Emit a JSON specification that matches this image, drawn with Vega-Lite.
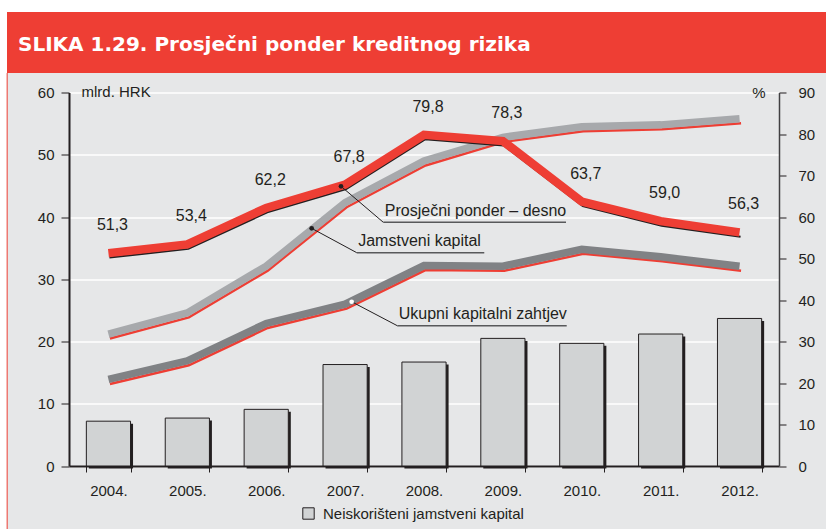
{
  "$schema": "https://vega.github.io/schema/vega-lite/v6.json",
  "width": 710,
  "height": 373.5,
  "autosize": {"type": "none"},
  "padding": {"left": 69, "top": 92.5, "right": 47, "bottom": 63},
  "background": "#e6e7e8",
  "datasets": {
    "main": [
      {"year": "2004.", "J": 21.2, "U": 13.9, "N": 7.2, "P": 51.3},
      {"year": "2005.", "J": 24.6, "U": 16.9, "N": 7.7, "P": 53.4},
      {"year": "2006.", "J": 32.1, "U": 22.9, "N": 9.1, "P": 62.2},
      {"year": "2007.", "J": 42.3, "U": 26.0, "N": 16.3, "P": 67.8},
      {"year": "2008.", "J": 49.0, "U": 32.2, "N": 16.7, "P": 79.8},
      {"year": "2009.", "J": 52.8, "U": 32.1, "N": 20.5, "P": 78.3},
      {"year": "2010.", "J": 54.5, "U": 34.8, "N": 19.7, "P": 63.7},
      {"year": "2011.", "J": 54.8, "U": 33.6, "N": 21.2, "P": 59.0},
      {"year": "2012.", "J": 55.8, "U": 32.1, "N": 23.7, "P": 56.3}
    ],
    "notes": [
      {"series": "Prosječni ponder – desno", "ax": 3.448, "ay": 44.93, "kx": 3.984, "ky": 39.15, "ex": 6.30},
      {"series": "Jamstveni kapital", "ax": 3.076, "ay": 38.18, "kx": 3.647, "ky": 34.27, "ex": 5.264},
      {"series": "Ukupni kapitalni zahtjev", "ax": 3.583, "ay": 26.39, "kx": 4.161, "ky": 22.54, "ex": 6.309}
    ]
  },
  "resolve": {"scale": {"x": "independent", "y": "independent"}, "axis": {"x": "independent", "y": "independent"}},
  "layer": [
    {
      "data": {"name": "main"},
      "layer": [
        {
          "mark": {"type": "bar", "color": "#231f20", "xOffset": 2.5, "yOffset": 2.5, "y2Offset": 2.5},
          "encoding": {
            "x": {"field": "year", "type": "nominal", "scale": {"paddingInner": 0.44, "paddingOuter": 0.22},
              "axis": {"orient": "bottom", "title": null, "labelAngle": 0, "tickBand": "extent", "tickSize": 6, "labelPadding": 11, "domainWidth": 2, "tickWidth": 1, "grid": false}},
            "y": {"field": "N", "type": "quantitative", "scale": {"domain": [0, 60], "nice": false},
              "axis": {"orient": "left", "values": [0, 10, 20, 30, 40, 50, 60], "tickSize": 8, "labelPadding": 7, "domainWidth": 2, "tickWidth": 1, "grid": true, "gridColor": "white", "gridWidth": 1.5,
                "title": "mlrd. HRK", "titleAngle": 0, "titleAlign": "left", "titleBaseline": "alphabetic", "titleX": 12, "titleY": 4}}
          }
        },
        {
          "mark": {"type": "bar", "stroke": "#231f20", "strokeWidth": 1},
          "encoding": {
            "x": {"field": "year", "type": "nominal"},
            "y": {"field": "N", "type": "quantitative"},
            "color": {"datum": "Neiskorišteni jamstveni kapital", "type": "nominal", "scale": {"range": ["#d1d3d4"]},
              "legend": {"orient": "none", "legendX": 232, "legendY": 413.5, "title": null, "symbolType": "square", "symbolSize": 130, "symbolStrokeColor": "#231f20", "symbolStrokeWidth": 1, "labelFontSize": 15, "labelColor": "#231f20", "labelOffset": 7, "labelLimit": 400, "padding": 0}}
          }
        },
        {
          "mark": {"type": "line", "color": "#ee3e34", "strokeWidth": 2.5, "yOffset": 4.5, "xOffset": 1.5},
          "encoding": {"x": {"field": "year", "type": "nominal"}, "y": {"field": "J", "type": "quantitative"}}
        },
        {
          "mark": {"type": "line", "color": "#a7a9ac", "strokeWidth": 7.5, "strokeCap": "butt"},
          "encoding": {"x": {"field": "year", "type": "nominal"}, "y": {"field": "J", "type": "quantitative"}}
        },
        {
          "mark": {"type": "line", "color": "#ee3e34", "strokeWidth": 2.5, "yOffset": 4.5, "xOffset": 1.5},
          "encoding": {"x": {"field": "year", "type": "nominal"}, "y": {"field": "U", "type": "quantitative"}}
        },
        {
          "mark": {"type": "line", "color": "#808285", "strokeWidth": 7.5, "strokeCap": "butt"},
          "encoding": {"x": {"field": "year", "type": "nominal"}, "y": {"field": "U", "type": "quantitative"}}
        }
      ]
    },
    {
      "data": {"name": "main"},
      "layer": [
        {
          "mark": {"type": "line", "color": "#231f20", "strokeWidth": 2, "yOffset": 4.5, "xOffset": 1},
          "encoding": {
            "x": {"field": "year", "type": "nominal", "scale": {"paddingInner": 0.44, "paddingOuter": 0.22}, "axis": null},
            "y": {"field": "P", "type": "quantitative", "scale": {"domain": [0, 90], "nice": false},
              "axis": {"orient": "right", "values": [0, 10, 20, 30, 40, 50, 60, 70, 80, 90], "tickSize": 7, "labelPadding": 12, "domainWidth": 1.5, "domainColor": "#414042", "tickWidth": 1, "grid": false,
                "title": "%", "titleAngle": 0, "titleAlign": "right", "titleBaseline": "alphabetic", "titleX": -14, "titleY": 5}}
          }
        },
        {
          "mark": {"type": "line", "color": "#ee3e34", "strokeWidth": 8.5, "strokeCap": "butt"},
          "encoding": {"x": {"field": "year", "type": "nominal"}, "y": {"field": "P", "type": "quantitative"}}
        },
        {
          "mark": {"type": "text", "fontSize": 16, "color": "#231f20", "dx": 4, "dy": -28, "align": "center", "baseline": "middle"},
          "encoding": {"x": {"field": "year", "type": "nominal"}, "y": {"field": "P", "type": "quantitative"}, "text": {"field": "P", "type": "quantitative", "format": ".1f"}}
        }
      ]
    },
    {
      "layer": [
        {
          "data": {"values": [{}]},
          "mark": {"type": "rect", "color": "#ee3e34"},
          "encoding": {
            "x": {"datum": -0.786, "type": "quantitative", "scale": {"domain": [0, 9], "nice": false, "zero": false}, "axis": null},
            "x2": {"datum": 10.5},
            "y": {"datum": 72.93, "type": "quantitative", "scale": {"domain": [0, 60], "nice": false, "zero": false}, "axis": null},
            "y2": {"datum": 63.13}
          }
        },
        {
          "data": {"values": [{}]},
          "mark": {"type": "rect", "color": "white"},
          "encoding": {"x": {"datum": -1.5, "type": "quantitative"}, "x2": {"datum": 10.5}, "y": {"datum": 72.93, "type": "quantitative"}, "y2": {"datum": 85}}
        },
        {
          "data": {"values": [{}]},
          "mark": {"type": "rect", "color": "white"},
          "encoding": {"x": {"datum": -1.5, "type": "quantitative"}, "x2": {"datum": -0.786}, "y": {"datum": -15, "type": "quantitative"}, "y2": {"datum": 85}}
        },
        {
          "data": {"values": [{}]},
          "mark": {"type": "rule", "color": "#ee3e34", "strokeWidth": 1},
          "encoding": {"x": {"datum": -0.784, "type": "quantitative"}, "y": {"datum": -15, "type": "quantitative"}, "y2": {"datum": 63.13}}
        },
        {
          "data": {"values": [{}]},
          "mark": {"type": "text", "color": "white", "font": "DejaVu Sans", "fontWeight": "bold", "fontSize": 20, "align": "left", "baseline": "alphabetic", "text": "SLIKA 1.29. Prosječni ponder kreditnog rizika"},
          "encoding": {"x": {"datum": -0.6465, "type": "quantitative"}, "y": {"datum": 66.71, "type": "quantitative"}}
        },
        {
          "data": {"name": "notes"},
          "mark": {"type": "rule", "color": "#231f20", "strokeWidth": 1},
          "encoding": {"x": {"field": "ax", "type": "quantitative"}, "y": {"field": "ay", "type": "quantitative"}, "x2": {"field": "kx"}, "y2": {"field": "ky"}}
        },
        {
          "data": {"name": "notes"},
          "mark": {"type": "rule", "color": "#58595b", "strokeWidth": 1.5},
          "encoding": {"x": {"field": "kx", "type": "quantitative"}, "x2": {"field": "ex"}, "y": {"field": "ky", "type": "quantitative"}}
        },
        {
          "data": {"name": "notes"},
          "mark": {"type": "text", "fontSize": 16, "color": "#231f20", "align": "left", "baseline": "alphabetic", "dx": 1.5, "dy": -6.5},
          "encoding": {"x": {"field": "kx", "type": "quantitative"}, "y": {"field": "ky", "type": "quantitative"}, "text": {"field": "series", "type": "nominal"}}
        },
        {
          "data": {"name": "notes"},
          "mark": {"type": "point", "filled": true, "size": 22, "opacity": 1},
          "encoding": {
            "x": {"field": "ax", "type": "quantitative"}, "y": {"field": "ay", "type": "quantitative"},
            "color": {"condition": {"test": "datum.series === 'Ukupni kapitalni zahtjev'", "value": "white"}, "value": "#231f20"}
          }
        }
      ]
    }
  ],
  "config": {
    "font": "Liberation Sans",
    "view": {"stroke": null},
    "axis": {"labelFontSize": 15, "labelColor": "#231f20", "titleFontSize": 15, "titleFontWeight": "normal", "titleColor": "#231f20", "domainColor": "#231f20", "tickColor": "#231f20", "labelFont": "Liberation Sans", "titleFont": "Liberation Sans"},
    "legend": {"labelFont": "Liberation Sans"},
    "locale": {"number": {"decimal": ",", "thousands": ".", "grouping": [3], "currency": ["", " kn"]}}
  }
}
